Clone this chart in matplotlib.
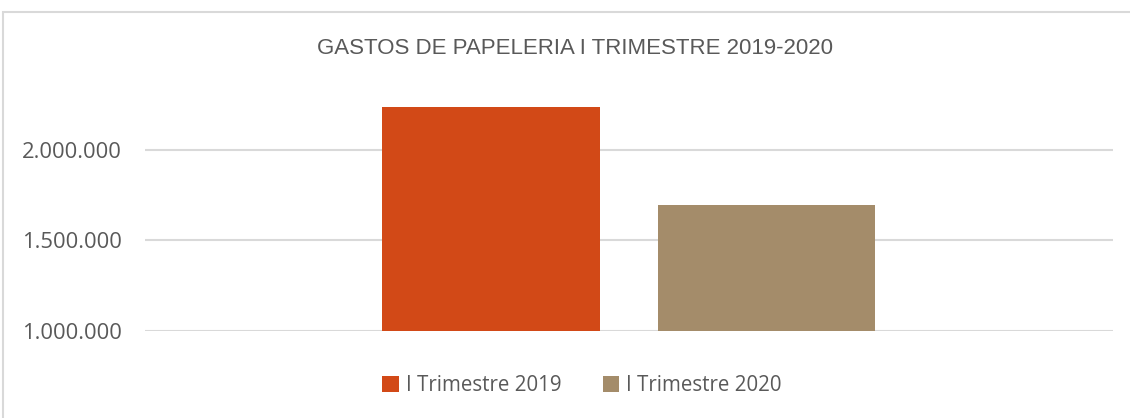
import matplotlib.pyplot as plt
from matplotlib.patches import Rectangle

series = ['I Trimestre 2019', 'I Trimestre 2020']
values = [2238000, 1696000]
colors = ['#D24917', '#A48C6A']
yticks = [1000000, 1500000, 2000000]
title = 'GASTOS DE PAPELERIA I TRIMESTRE 2019-2020'

plt.rcParams['font.family'] = ['Open Sans', 'DejaVu Sans']

fig = plt.figure(figsize=(11.3, 4.18), dpi=100)
# chart border (only left/top visible in the crop)
fig.patches.append(Rectangle((0.003, -0.1), 1.2, 1.072, transform=fig.transFigure,
                             fill=False, edgecolor='#d9d9d9', linewidth=1.5))

ax = fig.add_axes([0.1283, 0.2089, 0.8567, 0.5758])
pos = list(range(len(values)))
ax.bar(pos, values, width=0.791, color=colors, label=series, zorder=3)
ax.set_xlim(-1.256, 2.258)
ax.set_ylim(1000000, 2332000)
ax.set_yticks(yticks)
ax.set_yticklabels([f'{v:,}'.replace(',', '.') for v in yticks])
ax.set_xticks([])
ax.grid(axis='y', color='#d9d9d9', linewidth=1.5, zorder=0)
for s in ax.spines.values():
    s.set_visible(False)
ax.tick_params(axis='y', length=0, pad=16.5, labelsize=15.8, labelcolor='#595959')

fig.text(0.509, 0.885, title, ha='center', va='center', fontsize=16,
         color='#595959', family=['Liberation Sans', 'DejaVu Sans'])

fig.legend(loc='center', bbox_to_anchor=(0.515, 0.077), ncol=2, frameon=False,
           fontsize=14.8, labelcolor='#595959', handlelength=0.8, handleheight=0.8,
           handletextpad=0.35, columnspacing=2.0)

fig.savefig('out.png', dpi=100)
